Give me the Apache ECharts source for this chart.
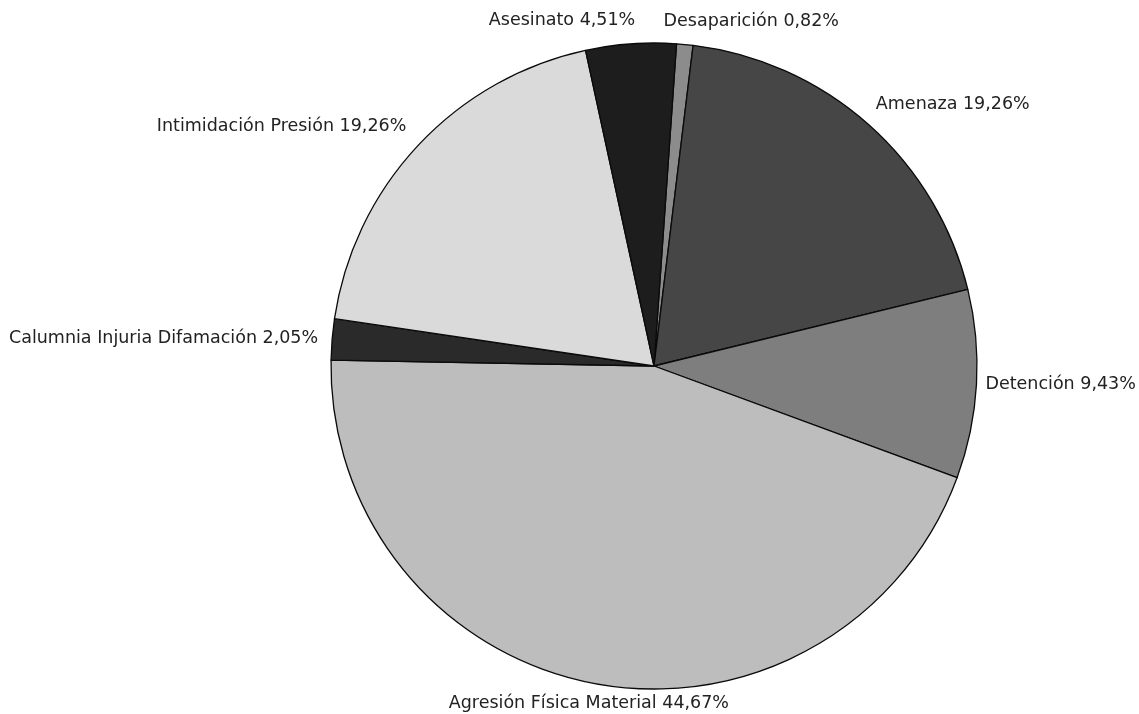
<!DOCTYPE html>
<html>
<head>
<meta charset="utf-8">
<script src="https://cdn.jsdelivr.net/npm/echarts@6/dist/echarts.min.js"></script>
<style>
  html, body { margin: 0; padding: 0; background: #fff; }
  #chart { width: 1139px; height: 714px; }
</style>
</head>
<body>
<div id="chart"></div>
<script>
// Categories of aggression, in clockwise order from the top
const categories = [
  'Desaparición',
  'Amenaza',
  'Detención',
  'Agresión Física Material',
  'Calumnia Injuria Difamación',
  'Intimidación Presión',
  'Asesinato'
];
// Share of each category, in percent
const shares = [0.82, 19.26, 9.43, 44.67, 2.05, 19.26, 4.51];
// Grey fill of each slice
const sliceColors = ['#8c8c8c', '#464646', '#7e7e7e', '#bdbdbd', '#2a2a2a', '#dadada', '#1d1d1d'];

// Small label nudges away from the default outside position
const labelNudge = {
  'Desaparición': { dx: -24, dy: -15 },
  'Amenaza': { dx: 0, dy: -14 },
  'Detención': { dx: -1, dy: 0 },
  'Agresión Física Material': { dx: -2, dy: 12, align: 'center' },
  'Calumnia Injuria Difamación': { dx: -4, dy: 0 },
  'Intimidación Presión': { dx: -4, dy: -13 },
  'Asesinato': { dx: 7, dy: -15 }
};

const fmt = v => v.toFixed(2).replace('.', ',');

const chart = echarts.init(document.getElementById('chart'), null, { renderer: 'canvas' });
chart.setOption({
  backgroundColor: '#ffffff',
  animation: false,
  series: [{
    type: 'pie',
    center: [654, 366],
    radius: 323,
    startAngle: 86,
    clockwise: true,
    avoidLabelOverlap: false,
    itemStyle: { borderColor: '#0a0a0a', borderWidth: 1.3 },
    label: {
      show: true,
      position: 'outside',
      distanceToLabelLine: 2,
      fontFamily: 'DejaVu Sans',
      fontSize: 17.5,
      color: '#222',
      formatter: p => p.name + ' ' + fmt(p.value) + '%'
    },
    labelLine: { show: false, length: 8, length2: 0 },
    labelLayout: params => {
      const n = labelNudge[params.text.replace(/ [\d,]+%$/, '')];
      return n ? Object.assign({}, n) : {};
    },
    emphasis: { disabled: true },
    data: categories.map((c, i) => ({
      name: c,
      value: shares[i],
      itemStyle: { color: sliceColors[i] }
    }))
  }]
});
</script>
</body>
</html>
